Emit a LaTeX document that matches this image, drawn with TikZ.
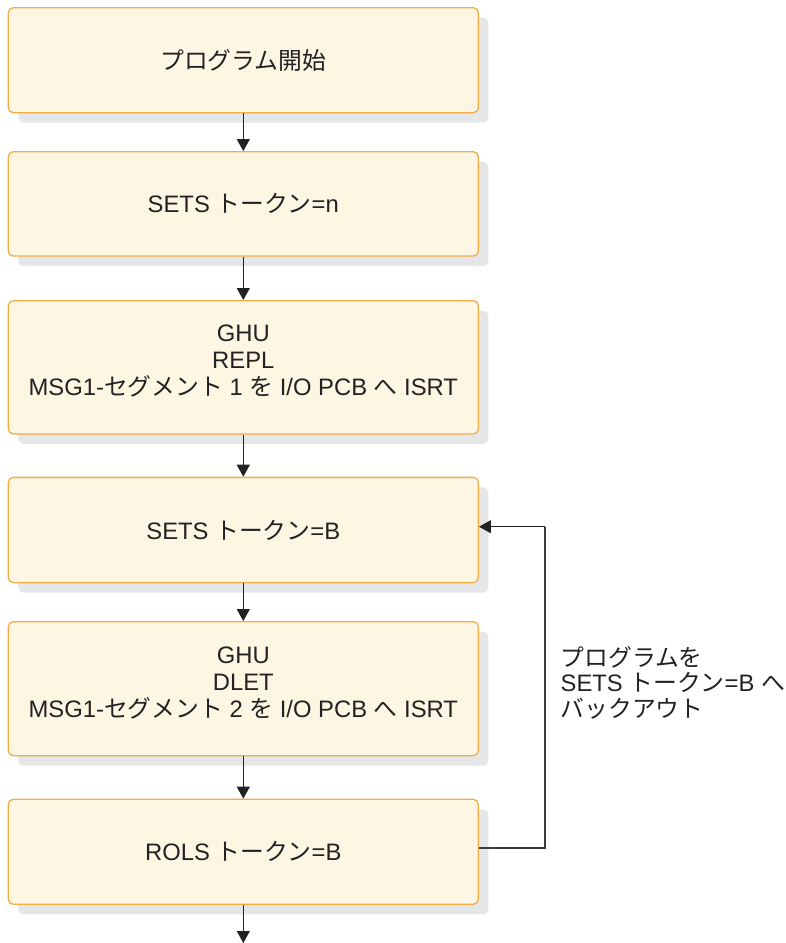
\documentclass[tikz,border=0pt]{standalone}
\usepackage{fontspec}
\setmainfont{Liberation Sans}
\newfontfamily\jp{Noto Sans CJK JP}
\usetikzlibrary{arrows.meta,shadows}
\definecolor{boxfill}{HTML}{FDF6E3}
\definecolor{boxline}{HTML}{F2AE45}
\definecolor{shadowc}{HTML}{E5E6E8}
\definecolor{linec}{HTML}{222222}
\definecolor{fbc}{HTML}{3A3A3A}
\begin{document}
\begin{tikzpicture}[x=1pt,y=-1pt,
  stepbox/.style={draw=boxline, line width=1.3pt, fill=boxfill, rounded corners=5pt,
    minimum width=470pt, inner sep=0pt, align=center, text=linec,
    font=\fontsize{23.8}{27}\selectfont,
    drop shadow={shadow xshift=10pt, shadow yshift=-10pt, fill=shadowc, opacity=1}},
  flow/.style={draw=linec, line width=1.2pt, -{Triangle[length=12pt,width=13pt]}},
  fb/.style={draw=fbc, line width=1.2pt},
  lbl/.style={inner sep=0pt, text=linec, font=\fontsize{23.8}{25.5}\selectfont}]
\useasboundingbox (0,0) rectangle (785,943);
\node[stepbox, minimum height=105pt] (b1) at (243.3,60.2) {{\jp プログラム開始}};
\node[stepbox, minimum height=104.3pt] (b2) at (243.3,203.9) {SETS {\jp トークン}=n};
\node[stepbox, minimum height=133.3pt, text depth=14pt] (b3) at (243.3,367.3) {GHU\\REPL\\MSG1-{\jp セグメント} 1 {\jp を} I/O PCB {\jp へ} ISRT};
\node[stepbox, minimum height=105.3pt] (b4) at (243.3,530) {SETS {\jp トークン}=B};
\node[stepbox, minimum height=134pt, text depth=14pt] (b5) at (243.3,688.7) {GHU\\DLET\\MSG1-{\jp セグメント} 2 {\jp を} I/O PCB {\jp へ} ISRT};
\node[stepbox, minimum height=105pt] (b6) at (243.3,851.8) {ROLS {\jp トークン}=B};
\coordinate (end) at (243.3,943);
\coordinate (fbl) at (545,848);
\coordinate (fbu) at (545,526.7);
\draw[flow] (b1) -- (b2);
\draw[flow] (b2) -- (b3);
\draw[flow] (b3) -- (b4);
\draw[flow] (b4) -- (b5);
\draw[flow] (b5) -- (b6);
\draw[flow] (b6) -- (end);
\draw[fb] (b6.east |- fbl) -- (fbl) -- (fbu);
\draw[flow] (fbu) -- (b4.east |- fbu);
\node[lbl, anchor=base west] (lab) at (560.5,666) {\vtop{\hbox{\jp プログラムを}\hbox{SETS {\jp トークン}=B {\jp へ}}\hbox{\jp バックアウト}}};
\end{tikzpicture}
\end{document}
